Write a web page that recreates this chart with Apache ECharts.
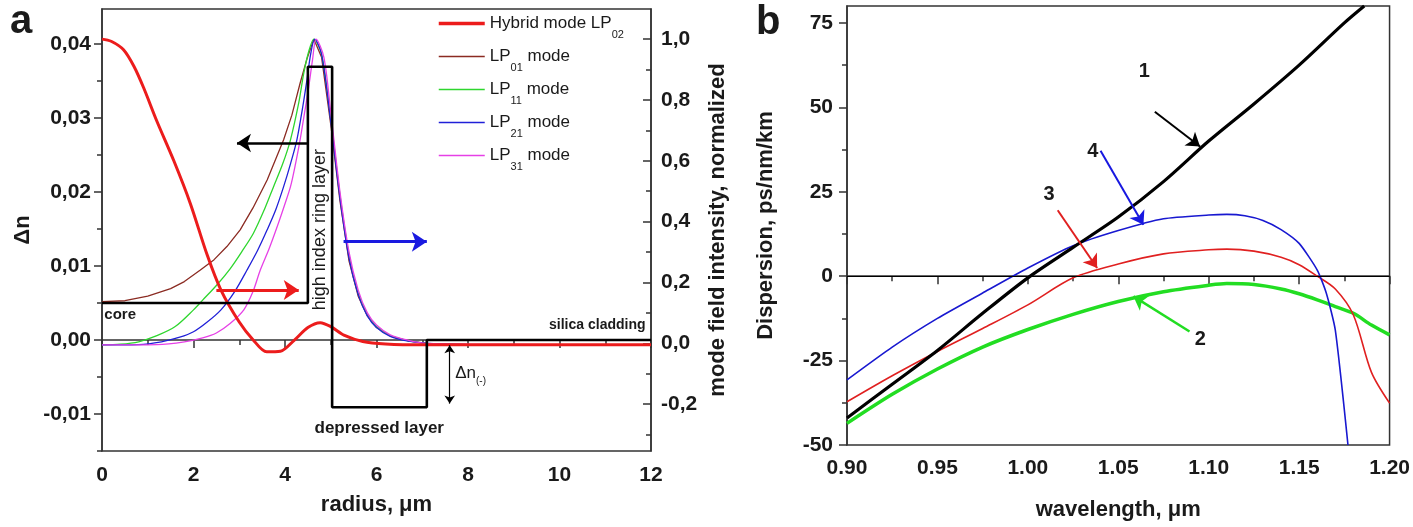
<!DOCTYPE html>
<html>
<head>
<meta charset="utf-8">
<script src="https://cdn.jsdelivr.net/npm/echarts@6/dist/echarts.min.js"></script>
<style>html,body{margin:0;padding:0;background:#fff;}#c{width:1413px;height:527px;}</style>
</head>
<body>
<div id="c"></div>
<script>
// ---------- Panel a data ----------
const radiusProfile = [0, 4.5, 4.5, 5.03, 5.03, 7.1, 7.1, 12];
const deltaNProfile = [0.005, 0.005, 0.0369, 0.0369, -0.0091, -0.0091, 0, 0];

const hybridLP02 = [[0,1.0],[0.2,0.993],[0.47,0.965],[0.7,0.91],[0.91,0.84],[1.2,0.73],[1.57,0.60],[1.93,0.46],[2.3,0.29],[2.6,0.175],[3.0,0.07],[3.3,0.012],[3.6,-0.028],[3.9,-0.026],[4.2,0.01],[4.5,0.052],[4.77,0.068],[5.0,0.055],[5.3,0.026],[5.7,0.006],[6.2,-0.002],[7,-0.005],[12,-0.005]];
const modeLP01 = [[0,0.137],[0.5,0.14],[1.0,0.155],[1.5,0.18],[1.8,0.203],[2.15,0.241],[2.45,0.275],[2.73,0.318],[3.02,0.373],[3.3,0.445],[3.61,0.537],[3.97,0.669],[4.15,0.75],[4.33,0.855],[4.48,0.935],[4.63,1.0],[4.8,0.94],[5.0,0.72],[5.2,0.47],[5.4,0.27],[5.6,0.155],[5.8,0.09],[6.0,0.052],[6.3,0.024],[6.7,0.008],[7.1,0.0],[8,-0.004],[12,-0.005]];
const modeLP11 = [[0,-0.005],[0.4,-0.003],[0.8,0.005],[1.2,0.025],[1.6,0.055],[2.0,0.11],[2.2,0.142],[2.5,0.19],[2.8,0.245],[3.05,0.3],[3.31,0.362],[3.55,0.44],[3.75,0.515],[3.95,0.59],[4.12,0.669],[4.3,0.79],[4.41,0.888],[4.52,0.96],[4.63,1.0],[4.8,0.95],[5.0,0.74],[5.2,0.49],[5.4,0.29],[5.6,0.165],[5.8,0.095],[6.0,0.055],[6.3,0.025],[6.7,0.008],[7.1,0.0],[8,-0.004],[12,-0.005]];
const modeLP21 = [[0,-0.005],[0.8,-0.004],[1.3,0.005],[1.7,0.02],[2.0,0.038],[2.3,0.07],[2.6,0.11],[2.9,0.17],[3.17,0.241],[3.4,0.305],[3.61,0.373],[3.8,0.44],[3.97,0.515],[4.12,0.59],[4.26,0.669],[4.38,0.77],[4.48,0.866],[4.56,0.95],[4.65,1.0],[4.8,0.95],[5.0,0.73],[5.2,0.48],[5.4,0.28],[5.6,0.16],[5.8,0.09],[6.0,0.052],[6.3,0.023],[6.7,0.007],[7.1,0.0],[8,-0.004],[12,-0.005]];
const modeLP31 = [[0,-0.005],[1.2,-0.004],[1.8,0.005],[2.2,0.018],[2.5,0.034],[2.8,0.065],[3.1,0.11],[3.3,0.17],[3.46,0.241],[3.65,0.31],[3.83,0.384],[3.98,0.45],[4.12,0.515],[4.23,0.59],[4.33,0.669],[4.43,0.76],[4.52,0.844],[4.6,0.93],[4.68,1.0],[4.85,0.94],[5.0,0.76],[5.2,0.5],[5.4,0.3],[5.6,0.175],[5.8,0.1],[6.0,0.06],[6.3,0.028],[6.7,0.01],[7.1,0.0],[8,-0.003],[12,-0.005]];

const leftTicksA = [-0.01, 0, 0.01, 0.02, 0.03, 0.04];
const leftMinorA = [-0.015, -0.005, 0.005, 0.015, 0.025, 0.035];
const rightTicksA = [-0.2, 0, 0.2, 0.4, 0.6, 0.8, 1.0];
const rightMinorA = [-0.3, -0.1, 0.1, 0.3, 0.5, 0.7, 0.9];

// ---------- Panel b data ----------
const wl1 = [0.9,0.925,0.95,0.975,1.0,1.025,1.05,1.075,1.1,1.125,1.15,1.175,1.186];
const disp1 = [-42,-32,-22,-11,-0.5,8.5,17.5,28,40,51,62.5,75,80];
const wl2 = [0.9,0.925,0.95,0.975,1.0,1.025,1.05,1.075,1.1,1.11,1.125,1.14,1.15,1.16,1.17,1.18,1.19,1.2];
const disp2 = [-43.6,-35,-27.5,-21,-15.8,-11.3,-7.5,-4.6,-2.7,-2.2,-2.5,-3.8,-5.2,-7,-9,-11,-14.5,-17.4];
const wl3 = [0.9,0.925,0.95,0.975,1.0,1.025,1.05,1.075,1.1,1.11,1.125,1.14,1.15,1.16,1.17,1.18,1.19,1.2];
const disp3 = [-37.2,-29.5,-22.3,-15.5,-8.5,-0.5,3.6,6.6,7.8,8.0,7.4,5.6,3.4,0,-3.8,-11.5,-28.5,-37.6];
const wl4 = [0.9,0.925,0.95,0.975,1.0,1.025,1.05,1.075,1.1,1.11,1.12,1.13,1.14,1.15,1.16,1.165,1.17,1.177];
const disp4 = [-30.7,-21,-12.5,-5,2.4,9.0,13.5,17,18.1,18.3,17.9,16.5,13.8,9.7,1.8,-5,-16,-50];

const yTicksB = [-50, -25, 0, 25, 50, 75];
const yMinorB = [-37.5, -12.5, 12.5, 37.5, 62.5];

const FONT = "'Liberation Sans', Arial, Helvetica, sans-serif";
const INK = '#1a1a1a';
const AX = '#333';

function zip(a, b) { return a.map((v, i) => [v, b[i]]); }
function comma(d) { return v => Number(v).toFixed(d).replace('.', ','); }

function arrow(xi, yi, from, to, color, width, symbols, size) {
  return {
    type: 'line', xAxisIndex: xi, yAxisIndex: yi, data: [], silent: true,
    markLine: {
      silent: true, animation: false, symbol: symbols, symbolSize: size,
      label: { show: false },
      lineStyle: { color: color, width: width, type: 'solid' },
      emphasis: { disabled: true },
      data: [[{ coord: from }, { coord: to }]]
    }
  };
}
function note(xi, yi, items) {
  return {
    type: 'line', xAxisIndex: xi, yAxisIndex: yi, data: [], silent: true,
    markPoint: {
      silent: true, animation: false, symbol: 'circle', symbolSize: 0,
      itemStyle: { color: 'transparent' },
      data: items.map(it => ({
        coord: it.coord, value: 0,
        label: Object.assign({ show: true, color: INK, fontFamily: FONT, formatter: it.text, distance: 0 }, it.label)
      }))
    }
  };
}

const legendNames = {
  'Hybrid mode LP02': '{n|Hybrid mode LP}{s|02}',
  'LP01 mode': '{n|LP}{s|01}{n| mode}',
  'LP11 mode': '{n|LP}{s|11}{n| mode}',
  'LP21 mode': '{n|LP}{s|21}{n| mode}',
  'LP31 mode': '{n|LP}{s|31}{n| mode}'
};

const tickLabel = { fontSize: 21, fontWeight: 'bold', color: INK, fontFamily: FONT };
const axisName = { fontSize: 22, fontWeight: 'bold', color: INK, fontFamily: FONT };

const option = {
  animation: false,
  backgroundColor: '#fff',
  textStyle: { fontFamily: FONT },
  grid: [
    { left: 102, top: 9, width: 549, height: 442, show: true, borderColor: AX, borderWidth: 1.5, backgroundColor: 'transparent' },
    { left: 847, top: 6, width: 543.5, height: 439, show: true, borderColor: AX, borderWidth: 1.5, backgroundColor: 'transparent' }
  ],
  legend: {
    orient: 'vertical', left: 437, top: 7, padding: 0, itemGap: 0, itemWidth: 46, itemHeight: 14,
    data: [
      { name: 'Hybrid mode LP02', lineStyle: { width: 3.5 } },
      { name: 'LP01 mode', lineStyle: { width: 1.6 } },
      { name: 'LP11 mode', lineStyle: { width: 1.6 } },
      { name: 'LP21 mode', lineStyle: { width: 1.6 } },
      { name: 'LP31 mode', lineStyle: { width: 1.6 } }
    ],
    itemStyle: { opacity: 0, borderWidth: 0 },
    formatter: n => legendNames[n],
    textStyle: {
      color: INK, fontFamily: FONT, fontSize: 17,
      rich: {
        n: { fontSize: 17, color: INK, fontFamily: FONT, verticalAlign: 'middle' },
        s: { fontSize: 11, color: INK, fontFamily: FONT, lineHeight: 11, padding: [22, 0, 0, 0], verticalAlign: 'middle' }
      }
    }
  },
  graphic: [
    { type: 'text', left: 10, top: 2, style: { text: 'a', font: 'bold 40px ' + FONT, fill: INK } },
    { type: 'text', left: 756, top: 3, style: { text: 'b', font: 'bold 40px ' + FONT, fill: INK } }
  ],
  xAxis: [
    {
      gridIndex: 0, type: 'value', min: 0, max: 12, interval: 2,
      axisLine: { lineStyle: { color: AX, width: 1.5 } },
      axisTick: { length: 8, lineStyle: { color: AX, width: 1.5 } },
      minorTick: { show: true, splitNumber: 2, length: 5, lineStyle: { color: AX, width: 1.5 } },
      splitLine: { show: false },
      axisLabel: Object.assign({ margin: 14 }, tickLabel),
      name: 'radius, μm', nameLocation: 'middle', nameGap: 43, nameTextStyle: axisName
    },
    {
      gridIndex: 1, type: 'value', min: 0.9, max: 1.2, interval: 0.05,
      axisLine: { lineStyle: { color: AX, width: 1.5 } },
      axisTick: { length: 8, lineStyle: { color: AX, width: 1.5 } },
      minorTick: { show: true, splitNumber: 2, length: 5, lineStyle: { color: AX, width: 1.5 } },
      splitLine: { show: false },
      axisLabel: Object.assign({ margin: 13, formatter: v => Number(v).toFixed(2) }, tickLabel),
      name: 'wavelength, μm', nameLocation: 'middle', nameGap: 54, nameTextStyle: axisName
    }
  ],
  yAxis: [
    { // 0: Δn
      gridIndex: 0, type: 'value', position: 'left', min: -0.015, max: 0.0447,
      axisLine: { show: true, lineStyle: { color: AX, width: 1.5 } },
      axisTick: { show: true, length: 8, customValues: leftTicksA, lineStyle: { color: AX, width: 1.5 } },
      splitLine: { show: false },
      axisLabel: Object.assign({ margin: 11, customValues: leftTicksA, formatter: comma(2) }, tickLabel),
      name: 'Δn', nameLocation: 'middle', nameRotate: 90, nameGap: 68, nameTextStyle: axisName
    },
    { // 1: mode field intensity
      gridIndex: 0, type: 'value', position: 'right', min: -0.354, max: 1.099,
      axisLine: { show: true, lineStyle: { color: AX, width: 1.5 } },
      axisTick: { show: true, inside: true, length: 8, customValues: rightTicksA, lineStyle: { color: AX, width: 1.5 } },
      splitLine: { show: false },
      axisLabel: Object.assign({ margin: 10, customValues: rightTicksA, formatter: comma(1) }, tickLabel),
      name: 'mode field intensity, normalized', nameLocation: 'middle', nameRotate: 90, nameGap: 56, nameTextStyle: axisName
    },
    { // 2: minor ticks left a
      gridIndex: 0, type: 'value', position: 'left', min: -0.015, max: 0.0447,
      axisLine: { show: false }, splitLine: { show: false }, axisLabel: { show: false },
      axisTick: { show: true, length: 5, customValues: leftMinorA, lineStyle: { color: AX, width: 1.5 } }
    },
    { // 3: minor ticks right a
      gridIndex: 0, type: 'value', position: 'right', min: -0.354, max: 1.099,
      axisLine: { show: false }, splitLine: { show: false }, axisLabel: { show: false },
      axisTick: { show: true, inside: true, length: 5, customValues: rightMinorA, lineStyle: { color: AX, width: 1.5 } }
    },
    { // 4: dispersion
      gridIndex: 1, type: 'value', position: 'left', min: -50, max: 80,
      axisLine: { show: true, lineStyle: { color: AX, width: 1.5 } },
      axisTick: { show: true, length: 8, customValues: yTicksB, lineStyle: { color: AX, width: 1.5 } },
      splitLine: { show: false },
      axisLabel: Object.assign({ margin: 14, customValues: yTicksB }, tickLabel),
      name: 'Dispersion, ps/nm/km', nameLocation: 'middle', nameRotate: 90, nameGap: 70, nameTextStyle: axisName
    },
    { // 5: minor ticks b
      gridIndex: 1, type: 'value', position: 'left', min: -50, max: 80,
      axisLine: { show: false }, splitLine: { show: false }, axisLabel: { show: false },
      axisTick: { show: true, length: 5, customValues: yMinorB, lineStyle: { color: AX, width: 1.5 } }
    }
  ],
  series: [
    { name: 'LP01 mode', type: 'line', xAxisIndex: 0, yAxisIndex: 1, data: modeLP01, symbol: 'none', smooth: false,
      lineStyle: { color: '#8b2b22', width: 1.3 }, itemStyle: { color: '#8b2b22' } },
    { name: 'LP11 mode', type: 'line', xAxisIndex: 0, yAxisIndex: 1, data: modeLP11, symbol: 'none', smooth: 0.3,
      lineStyle: { color: '#2ed62e', width: 1.3 }, itemStyle: { color: '#2ed62e' } },
    { name: 'LP21 mode', type: 'line', xAxisIndex: 0, yAxisIndex: 1, data: modeLP21, symbol: 'none', smooth: 0.3,
      lineStyle: { color: '#2020d8', width: 1.3 }, itemStyle: { color: '#2020d8' } },
    { name: 'LP31 mode', type: 'line', xAxisIndex: 0, yAxisIndex: 1, data: modeLP31, symbol: 'none', smooth: 0.3,
      lineStyle: { color: '#e640e6', width: 1.3 }, itemStyle: { color: '#e640e6' } },
    { name: 'Hybrid mode LP02', type: 'line', xAxisIndex: 0, yAxisIndex: 1, data: hybridLP02, symbol: 'none', smooth: 0.3,
      lineStyle: { color: '#ec1c1c', width: 3 }, itemStyle: { color: '#ec1c1c' } },
    { name: 'index profile', type: 'line', xAxisIndex: 0, yAxisIndex: 0, data: zip(radiusProfile, deltaNProfile), symbol: 'none',
      lineStyle: { color: '#000', width: 2.6 }, itemStyle: { color: '#000' }, z: 3 },

    arrow(0, 0, [4.48, 0.0266], [2.95, 0.0266], '#000', 2.5, ['none', 'arrow'], 14),
    arrow(0, 1, [2.5, 0.175], [4.3, 0.175], '#ec1c1c', 3, ['none', 'arrow'], 15),
    arrow(0, 1, [5.28, 0.334], [7.1, 0.334], '#1a1ae0', 3, ['none', 'arrow'], 15),
    arrow(0, 0, [7.6, -0.0007], [7.6, -0.0086], '#000', 1.2, ['arrow', 'arrow'], 8),

    note(0, 0, [
      { coord: [0.05, 0.0034], text: 'core', label: { position: 'right', fontSize: 15, fontWeight: 'bold' } },
      { coord: [4.77, 0.0149], text: 'high index ring layer', label: { position: 'inside', fontSize: 18, rotate: 90 } },
      { coord: [6.06, -0.0119], text: 'depressed layer', label: { position: 'inside', fontSize: 17, fontWeight: 'bold' } },
      { coord: [11.88, 0.002], text: 'silica cladding', label: { position: 'left', fontSize: 14, fontWeight: 'bold' } },
      { coord: [7.72, -0.0045], text: '{n|Δn}{s|(-)}', label: { position: 'right', rich: {
          n: { fontSize: 17, color: INK, fontFamily: FONT, verticalAlign: 'middle' },
          s: { fontSize: 10, color: INK, fontFamily: FONT, lineHeight: 10, padding: [16, 0, 0, 0], verticalAlign: 'middle' } } } }
    ]),

    // Panel b
    { name: '1', type: 'line', xAxisIndex: 1, yAxisIndex: 4, data: zip(wl1, disp1), symbol: 'none', smooth: 0.3,
      lineStyle: { color: '#000', width: 3.2 }, itemStyle: { color: '#000' }, z: 4,
      markLine: { silent: true, symbol: 'none', label: { show: false }, lineStyle: { color: '#000', width: 1.2, type: 'solid' },
        data: [{ yAxis: 0 }] } },
    { name: '2', type: 'line', xAxisIndex: 1, yAxisIndex: 4, data: zip(wl2, disp2), symbol: 'none', smooth: 0.3,
      lineStyle: { color: '#22dd22', width: 3.5 }, itemStyle: { color: '#22dd22' } },
    { name: '3', type: 'line', xAxisIndex: 1, yAxisIndex: 4, data: zip(wl3, disp3), symbol: 'none', smooth: 0.3,
      lineStyle: { color: '#e02020', width: 1.6 }, itemStyle: { color: '#e02020' } },
    { name: '4', type: 'line', xAxisIndex: 1, yAxisIndex: 4, data: zip(wl4, disp4), symbol: 'none', smooth: 0.2,
      lineStyle: { color: '#1818d0', width: 1.6 }, itemStyle: { color: '#1818d0' } },

    arrow(1, 4, [1.0702, 48.7], [1.0952, 38.4], '#000', 2, ['none', 'arrow'], 13),
    arrow(1, 4, [1.0402, 37.1], [1.0639, 15.2], '#1818e0', 2, ['none', 'arrow'], 13),
    arrow(1, 4, [1.0165, 19.5], [1.0383, 2.4], '#e02020', 2, ['none', 'arrow'], 13),
    arrow(1, 4, [1.0894, -16.4], [1.0584, -6.0], '#22dd22', 2.5, ['none', 'arrow'], 13),

    note(1, 4, [
      { coord: [1.0644, 60.7], text: '1', label: { position: 'inside', fontSize: 20, fontWeight: 'bold' } },
      { coord: [1.0359, 37.0], text: '4', label: { position: 'inside', fontSize: 20, fontWeight: 'bold' } },
      { coord: [1.0117, 24.1], text: '3', label: { position: 'inside', fontSize: 20, fontWeight: 'bold' } },
      { coord: [1.0953, -18.9], text: '2', label: { position: 'inside', fontSize: 20, fontWeight: 'bold' } }
    ])
  ]
};

const chart = echarts.init(document.getElementById('c'), null, { renderer: 'canvas' });
chart.setOption(option);
</script>
</body>
</html>
